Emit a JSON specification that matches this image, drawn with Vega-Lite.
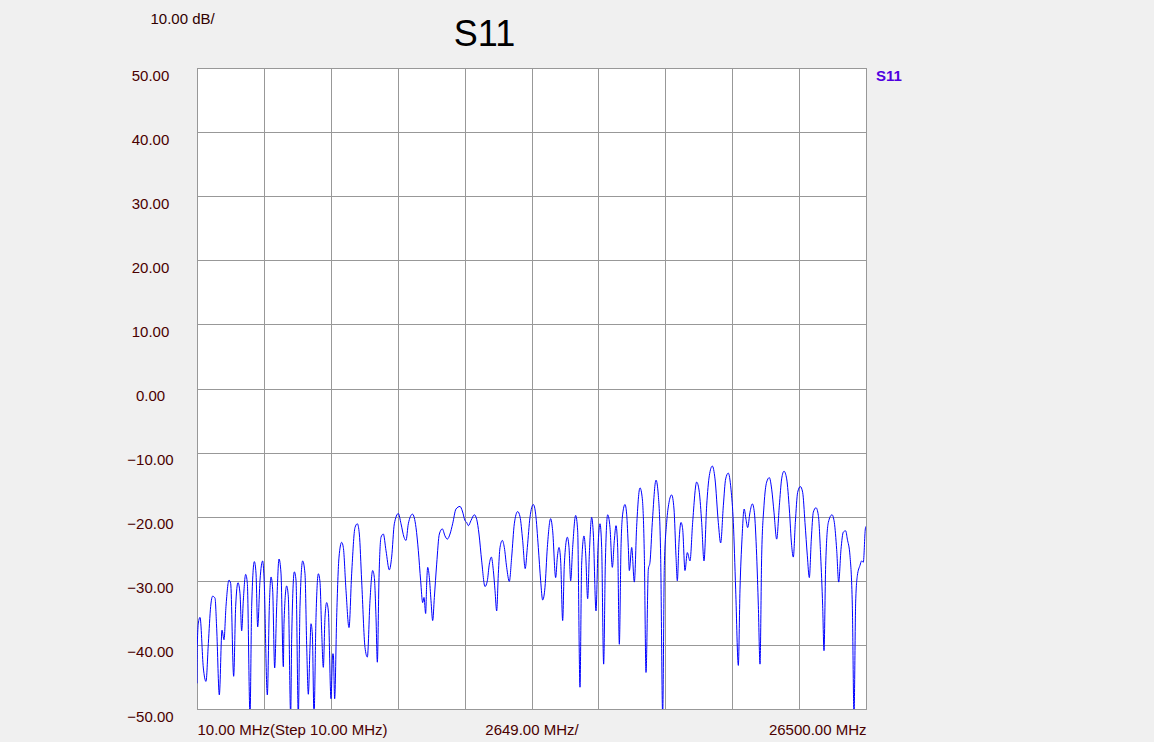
{
  "$schema": "https://vega.github.io/schema/vega-lite/v6.json",
  "width": 669,
  "height": 641,
  "autosize": {"type": "none"},
  "padding": {"left": 197, "top": 68, "right": 288, "bottom": 33},
  "background": "#f0f0f0",
  "config": {
    "font": "Liberation Sans",
    "view": {"fill": "#ffffff", "stroke": "#808080", "strokeWidth": 1}
  },
  "data": {
    "values": [
      {"f":10,"db":-46},{"f":23,"db":-40},{"f":63,"db":-36.6},{"f":129,"db":-35.7},{"f":261,"db":-43.6},{"f":366,"db":-45.7},{"f":459,"db":-39.8},{"f":551,"db":-34.0},{"f":630,"db":-32.4},{"f":723,"db":-32.7},{"f":789,"db":-37.4},{"f":894,"db":-47.8},{"f":1000,"db":-37.7},{"f":1079,"db":-39.2},{"f":1158,"db":-34.0},{"f":1277,"db":-29.9},{"f":1343,"db":-30.4},{"f":1462,"db":-44.9},{"f":1541,"db":-34.0},{"f":1633,"db":-30.3},{"f":1713,"db":-32.0},{"f":1779,"db":-37.8},{"f":1845,"db":-33.0},{"f":1937,"db":-29.0},{"f":2003,"db":-30.4},{"f":2109,"db":-51},{"f":2175,"db":-34.0},{"f":2280,"db":-27.0},{"f":2346,"db":-28.8},{"f":2413,"db":-37.2},{"f":2505,"db":-29.9},{"f":2610,"db":-26.9},{"f":2663,"db":-29.4},{"f":2795,"db":-47.8},{"f":2874,"db":-34.0},{"f":2940,"db":-29.4},{"f":3006,"db":-31.4},{"f":3085,"db":-43.6},{"f":3165,"db":-34.0},{"f":3257,"db":-26.6},{"f":3336,"db":-28.8},{"f":3429,"db":-43.4},{"f":3455,"db":-36.6},{"f":3560,"db":-30.8},{"f":3626,"db":-32.5},{"f":3719,"db":-51},{"f":3758,"db":-39.2},{"f":3864,"db":-28.6},{"f":3930,"db":-29.9},{"f":4022,"db":-51},{"f":4088,"db":-34.0},{"f":4194,"db":-26.9},{"f":4286,"db":-28.9},{"f":4352,"db":-39.9},{"f":4418,"db":-47.7},{"f":4484,"db":-40.4},{"f":4524,"db":-36.7},{"f":4577,"db":-38.3},{"f":4643,"db":-51},{"f":4722,"db":-35.7},{"f":4814,"db":-28.9},{"f":4880,"db":-30.2},{"f":4946,"db":-37.8},{"f":5012,"db":-43.5},{"f":5078,"db":-35.7},{"f":5144,"db":-33.4},{"f":5210,"db":-34.7},{"f":5316,"db":-48.4},{"f":5382,"db":-41.4},{"f":5408,"db":-41.4},{"f":5461,"db":-48.4},{"f":5540,"db":-35.7},{"f":5633,"db":-26.3},{"f":5738,"db":-24.0},{"f":5804,"db":-24.8},{"f":5910,"db":-31.5},{"f":6029,"db":-37.3},{"f":6134,"db":-28.9},{"f":6266,"db":-21.7},{"f":6359,"db":-21.1},{"f":6438,"db":-22.7},{"f":6530,"db":-30.0},{"f":6662,"db":-40.4},{"f":6755,"db":-41.9},{"f":6860,"db":-33.1},{"f":6966,"db":-28.4},{"f":7032,"db":-29.5},{"f":7098,"db":-35.7},{"f":7151,"db":-42.7},{"f":7217,"db":-29.5},{"f":7296,"db":-23.2},{"f":7388,"db":-22.7},{"f":7494,"db":-25.3},{"f":7626,"db":-28.3},{"f":7718,"db":-26.3},{"f":7824,"db":-21.1},{"f":7982,"db":-19.5},{"f":8088,"db":-21.1},{"f":8207,"db":-23.2},{"f":8286,"db":-23.7},{"f":8378,"db":-21.1},{"f":8540,"db":-19.6},{"f":8682,"db":-21.7},{"f":8774,"db":-25.3},{"f":8866,"db":-30.0},{"f":8946,"db":-33.4},{"f":8998,"db":-32.6},{"f":9064,"db":-35.1},{"f":9104,"db":-30.5},{"f":9144,"db":-27.9},{"f":9210,"db":-29.5},{"f":9276,"db":-33.1},{"f":9342,"db":-36.2},{"f":9408,"db":-32.6},{"f":9500,"db":-27.4},{"f":9606,"db":-22.7},{"f":9724,"db":-21.9},{"f":9830,"db":-23.0},{"f":9922,"db":-23.5},{"f":10028,"db":-22.7},{"f":10133,"db":-21.1},{"f":10265,"db":-18.8},{"f":10424,"db":-18.4},{"f":10516,"db":-19.1},{"f":10622,"db":-20.6},{"f":10688,"db":-20.9},{"f":10754,"db":-21.4},{"f":10859,"db":-20.6},{"f":10991,"db":-19.7},{"f":11084,"db":-20.4},{"f":11176,"db":-22.7},{"f":11282,"db":-26.9},{"f":11414,"db":-30.9},{"f":11506,"db":-30.0},{"f":11585,"db":-27.4},{"f":11665,"db":-26.3},{"f":11744,"db":-28.4},{"f":11810,"db":-31.5},{"f":11876,"db":-34.7},{"f":11942,"db":-28.9},{"f":12008,"db":-24.8},{"f":12100,"db":-23.7},{"f":12179,"db":-24.8},{"f":12272,"db":-27.9},{"f":12377,"db":-30.1},{"f":12470,"db":-26.3},{"f":12575,"db":-21.1},{"f":12707,"db":-19.2},{"f":12800,"db":-20.0},{"f":12905,"db":-23.7},{"f":13005,"db":-28.1},{"f":13090,"db":-24.8},{"f":13195,"db":-20.1},{"f":13327,"db":-18.1},{"f":13420,"db":-19.6},{"f":13525,"db":-24.8},{"f":13618,"db":-30.0},{"f":13697,"db":-33.0},{"f":13789,"db":-31.0},{"f":13882,"db":-24.8},{"f":14014,"db":-20.3},{"f":14093,"db":-22.2},{"f":14212,"db":-29.5},{"f":14278,"db":-26.3},{"f":14344,"db":-24.8},{"f":14410,"db":-26.9},{"f":14489,"db":-36.2},{"f":14555,"db":-27.4},{"f":14674,"db":-23.2},{"f":14740,"db":-24.8},{"f":14806,"db":-30.0},{"f":14885,"db":-24.8},{"f":15004,"db":-19.8},{"f":15083,"db":-22.2},{"f":15175,"db":-46.6},{"f":15241,"db":-27.4},{"f":15334,"db":-23.0},{"f":15400,"db":-25.8},{"f":15479,"db":-32.8},{"f":15545,"db":-25.8},{"f":15637,"db":-20.1},{"f":15703,"db":-22.7},{"f":15809,"db":-34.7},{"f":15888,"db":-24.8},{"f":15967,"db":-21.1},{"f":16033,"db":-24.8},{"f":16112,"db":-43.0},{"f":16178,"db":-27.4},{"f":16271,"db":-19.7},{"f":16363,"db":-21.7},{"f":16456,"db":-27.9},{"f":16535,"db":-23.7},{"f":16601,"db":-21.4},{"f":16667,"db":-24.8},{"f":16733,"db":-39.9},{"f":16799,"db":-24.8},{"f":16865,"db":-19.6},{"f":16957,"db":-18.1},{"f":17023,"db":-19.6},{"f":17089,"db":-24.8},{"f":17129,"db":-28.4},{"f":17222,"db":-24.8},{"f":17327,"db":-30.2},{"f":17419,"db":-21.5},{"f":17551,"db":-15.5},{"f":17643,"db":-17.2},{"f":17723,"db":-26.1},{"f":17789,"db":-44.3},{"f":17881,"db":-28.2},{"f":17947,"db":-27.1},{"f":18039,"db":-20.9},{"f":18185,"db":-14.3},{"f":18277,"db":-16.7},{"f":18369,"db":-26.1},{"f":18449,"db":-51},{"f":18515,"db":-27.6},{"f":18607,"db":-20.9},{"f":18699,"db":-17.8},{"f":18805,"db":-16.6},{"f":18897,"db":-18.8},{"f":18976,"db":-26.1},{"f":19029,"db":-30.0},{"f":19095,"db":-24.0},{"f":19174,"db":-20.9},{"f":19240,"db":-21.9},{"f":19333,"db":-28.4},{"f":19425,"db":-25.6},{"f":19531,"db":-26.9},{"f":19636,"db":-20.9},{"f":19795,"db":-14.6},{"f":19900,"db":-16.2},{"f":19993,"db":-20.9},{"f":20085,"db":-26.9},{"f":20191,"db":-18.3},{"f":20296,"db":-13.6},{"f":20415,"db":-12.1},{"f":20521,"db":-14.1},{"f":20652,"db":-20.9},{"f":20745,"db":-24.1},{"f":20851,"db":-18.3},{"f":20943,"db":-14.1},{"f":21047,"db":-13.2},{"f":21154,"db":-15.7},{"f":21247,"db":-20.9},{"f":21339,"db":-31.3},{"f":21445,"db":-43.2},{"f":21511,"db":-31.3},{"f":21590,"db":-23.5},{"f":21675,"db":-18.8},{"f":21748,"db":-20.4},{"f":21814,"db":-21.7},{"f":21907,"db":-19.3},{"f":21999,"db":-18.0},{"f":22078,"db":-19.3},{"f":22171,"db":-26.1},{"f":22237,"db":-33.9},{"f":22303,"db":-43.0},{"f":22369,"db":-26.1},{"f":22461,"db":-18.3},{"f":22566,"db":-14.6},{"f":22672,"db":-13.9},{"f":22765,"db":-15.7},{"f":22857,"db":-19.3},{"f":22963,"db":-23.5},{"f":23068,"db":-18.3},{"f":23160,"db":-14.1},{"f":23253,"db":-12.9},{"f":23359,"db":-14.1},{"f":23464,"db":-18.8},{"f":23556,"db":-24.5},{"f":23622,"db":-26.3},{"f":23702,"db":-20.9},{"f":23794,"db":-16.2},{"f":23900,"db":-15.3},{"f":23992,"db":-16.2},{"f":24084,"db":-20.9},{"f":24177,"db":-26.1},{"f":24256,"db":-29.5},{"f":24335,"db":-23.5},{"f":24414,"db":-19.3},{"f":24520,"db":-18.6},{"f":24613,"db":-19.8},{"f":24705,"db":-26.1},{"f":24784,"db":-33.9},{"f":24837,"db":-40.9},{"f":24903,"db":-27.6},{"f":25008,"db":-20.9},{"f":25154,"db":-19.7},{"f":25246,"db":-20.9},{"f":25338,"db":-25.1},{"f":25418,"db":-30.2},{"f":25510,"db":-25.1},{"f":25602,"db":-22.4},{"f":25695,"db":-22.2},{"f":25761,"db":-23.5},{"f":25866,"db":-26.1},{"f":25959,"db":-33.9},{"f":26025,"db":-51},{"f":26091,"db":-33.3},{"f":26157,"db":-29.2},{"f":26262,"db":-27.6},{"f":26328,"db":-26.9},{"f":26394,"db":-27.1},{"f":26474,"db":-21.9},{"f":26500,"db":-21.5}
    ]
  },
  "mark": {"type": "line", "interpolate": "monotone", "strokeWidth": 1, "clip": true},
  "encoding": {
    "x": {
      "field": "f",
      "type": "quantitative",
      "scale": {"domain": [10, 26500], "nice": false, "zero": false},
      "axis": {
        "values": [10, 2659, 5308, 7957, 10606, 13255, 15904, 18553, 21202, 23851, 26500],
        "grid": true,
        "gridColor": "#989898",
        "gridOpacity": 1,
        "gridWidth": 1,
        "domain": false,
        "ticks": false,
        "labelExpr": "datum.value == 10 ? '10.00 MHz(Step 10.00 MHz)' : (datum.value == 13255 ? '2649.00 MHz/' : (datum.value == 26500 ? '26500.00 MHz' : ''))",
        "labelFlush": true,
        "labelOverlap": false,
        "labelLimit": 0,
        "labelFontSize": 15,
        "labelColor": "#4a0000",
        "labelBaseline": "alphabetic",
        "labelPadding": 25,
        "title": "S11",
        "titleFontSize": 36,
        "titleFontWeight": "normal",
        "titleColor": "#000000",
        "titleAlign": "center",
        "titleBaseline": "alphabetic",
        "titleAnchor": null,
        "titleX": 287,
        "titleY": -664
      }
    },
    "y": {
      "field": "db",
      "type": "quantitative",
      "scale": {"domain": [-50, 50], "nice": false, "zero": false},
      "axis": {
        "values": [-50, -40, -30, -20, -10, 0, 10, 20, 30, 40, 50],
        "format": ".2f",
        "grid": true,
        "gridColor": "#989898",
        "gridOpacity": 1,
        "gridWidth": 1,
        "domain": false,
        "ticks": false,
        "labelFontSize": 15,
        "labelColor": "#4a0000",
        "labelAlign": "center",
        "labelBaseline": "middle",
        "labelPadding": 47,
        "labelOffset": 7,
        "labelOverlap": false,
        "labelBound": false,
        "labelFlush": false,
        "title": "10.00 dB/",
        "titleFontSize": 15,
        "titleFontWeight": "normal",
        "titleColor": "#300000",
        "titleAngle": 0,
        "titleAlign": "left",
        "titleBaseline": "middle",
        "titleAnchor": null,
        "titleX": -47,
        "titleY": -50
      }
    },
    "color": {
      "datum": "S11",
      "type": "nominal",
      "scale": {"range": ["#0000ff"]},
      "legend": {
        "title": null,
        "orient": "right",
        "offset": -5,
        "padding": 0,
        "symbolSize": 0,
        "symbolStrokeWidth": 0,
        "symbolOpacity": 0,
        "labelOffset": 0,
        "labelFontSize": 15,
        "labelFontWeight": "bold",
        "labelColor": "#5000e0"
      }
    }
  }
}
